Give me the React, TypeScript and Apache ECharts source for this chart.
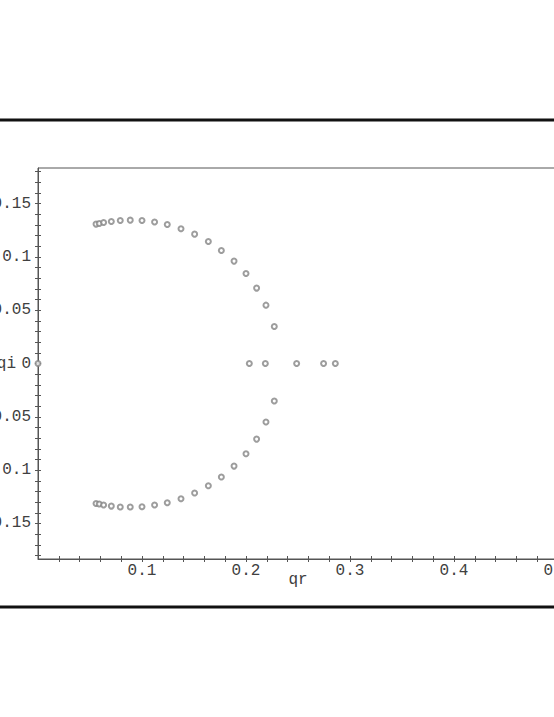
import React, { useEffect, useRef } from "react";
import * as echarts from "echarts";

// Upper branch of complex roots (qr, qi)
const qrUpper = [0.0558, 0.0589, 0.0631, 0.0705, 0.0791, 0.0887, 0.1, 0.1121, 0.1243, 0.1375, 0.1506, 0.1638, 0.1763, 0.1885, 0.2, 0.2102, 0.2192, 0.2272];
const qiUpper = [0.1307, 0.1312, 0.1322, 0.1331, 0.1341, 0.1344, 0.1341, 0.1326, 0.1303, 0.1263, 0.1213, 0.1144, 0.1059, 0.096, 0.0844, 0.0707, 0.0547, 0.0347];
// Lower branch
const qrLower = [0.0558, 0.0589, 0.0631, 0.0705, 0.0791, 0.0887, 0.1, 0.1121, 0.1243, 0.1375, 0.1506, 0.1638, 0.1763, 0.1885, 0.2, 0.2102, 0.2192, 0.2272];
const qiLower = [-0.1312, -0.1318, -0.1327, -0.1337, -0.1346, -0.1346, -0.1343, -0.1327, -0.1306, -0.1268, -0.1215, -0.1147, -0.1065, -0.0962, -0.0847, -0.0709, -0.0549, -0.0352];
// Real roots
const qrReal = [0, 0.2032, 0.2186, 0.2487, 0.2746, 0.2859];
const qiReal = [0, 0, 0, 0, 0, 0];

const xMajorTicks = [0.1, 0.2, 0.3, 0.4, 0.5];
const xMinorTicks = [0.02, 0.04, 0.06, 0.08, 0.1, 0.12, 0.14, 0.16, 0.18, 0.2, 0.22, 0.24, 0.26, 0.28, 0.3, 0.32, 0.34, 0.36, 0.38, 0.4, 0.42, 0.44, 0.46, 0.48, 0.5, 0.52, 0.54];
const yMajorTicks = [-0.15, -0.1, -0.05, 0, 0.05, 0.1, 0.15];
const yMinorTicks = [-0.18, -0.17, -0.16, -0.15, -0.14, -0.13, -0.12, -0.11, -0.1, -0.09, -0.08, -0.07, -0.06, -0.05, -0.04, -0.03, -0.02, -0.01, 0, 0.01, 0.02, 0.03, 0.04, 0.05, 0.06, 0.07, 0.08, 0.09, 0.1, 0.11, 0.12, 0.13, 0.14, 0.15, 0.16, 0.17, 0.18];

const X_MIN = 0;
const X_MAX = 0.55;
const Y_MIN = -0.1833;
const Y_MAX = 0.1833;

export default function App() {
  const ref = useRef<HTMLDivElement>(null);

  useEffect(() => {
    if (!ref.current) return;
    const chart = echarts.init(ref.current, null, { renderer: "svg" });
    const font = "Liberation Mono";
    const axisColor = "#555";
    const labelStyle = {
      fontFamily: font,
      fontSize: 16,
      color: "#404040",
    };
    const pts = (xs: number[], ys: number[]) => xs.map((x, i) => [x, ys[i]]);

    chart.setOption({
      animation: false,
      backgroundColor: "#fff",
      grid: {
        left: 38,
        top: 168,
        width: 572,
        height: 391,
        show: true,
        borderColor: axisColor,
        borderWidth: 1,
        backgroundColor: "transparent",
        containLabel: false,
        outerBoundsMode: "none",
      },
      xAxis: [
        {
          type: "value",
          min: X_MIN,
          max: X_MAX,
          position: "bottom",
          axisLine: { show: true, onZero: false, lineStyle: { color: axisColor, width: 1 } },
          axisTick: { show: true, inside: true, length: 3, customValues: xMinorTicks, lineStyle: { color: axisColor } },
          axisLabel: { show: true, customValues: xMajorTicks, margin: 4, ...labelStyle },
          splitLine: { show: false },
        },
        {
          type: "value",
          min: X_MIN,
          max: X_MAX,
          position: "bottom",
          axisLine: { show: false, onZero: false },
          axisTick: { show: true, inside: false, length: 3, customValues: xMinorTicks, lineStyle: { color: axisColor } },
          axisLabel: { show: false },
          splitLine: { show: false },
        },
      ],
      yAxis: [
        {
          type: "value",
          min: Y_MIN,
          max: Y_MAX,
          position: "left",
          axisLine: { show: true, onZero: false, lineStyle: { color: axisColor, width: 1 } },
          axisTick: { show: true, inside: true, length: 3, customValues: yMinorTicks, lineStyle: { color: axisColor } },
          axisLabel: {
            show: true,
            customValues: yMajorTicks,
            margin: 7,
            ...labelStyle,
            formatter: (v: number) => String(Math.round(v * 100) / 100),
          },
          splitLine: { show: false },
        },
        {
          type: "value",
          min: Y_MIN,
          max: Y_MAX,
          position: "left",
          axisLine: { show: false, onZero: false },
          axisTick: { show: true, inside: false, length: 3, customValues: yMinorTicks, lineStyle: { color: axisColor } },
          axisLabel: { show: false },
          splitLine: { show: false },
        },
      ],
      graphic: [
        { type: "line", shape: { x1: 0, y1: 120, x2: 640, y2: 120 }, style: { stroke: "#111", lineWidth: 3 }, silent: true },
        { type: "line", shape: { x1: 0, y1: 607, x2: 640, y2: 607 }, style: { stroke: "#111", lineWidth: 3 }, silent: true },
        {
          type: "text",
          x: 298,
          y: 580,
          style: { text: "qr", fill: "#404040", font: `16px "${font}"`, textAlign: "center", textVerticalAlign: "middle" },
        },
        {
          type: "text",
          x: 16,
          y: 364,
          style: { text: "qi", fill: "#404040", font: `16px "${font}"`, textAlign: "right", textVerticalAlign: "middle" },
        },
      ],
      series: [
        {
          type: "scatter",
          symbol: "emptyCircle",
          symbolSize: 5,
          itemStyle: { color: "#858585", borderColor: "#858585", borderWidth: 1 },
          data: [...pts(qrUpper, qiUpper), ...pts(qrLower, qiLower), ...pts(qrReal, qiReal)],
          clip: false,
        },
      ],
    });

    return () => chart.dispose();
  }, []);

  return (
    <div style={{ position: "fixed", left: 0, top: 0, width: 554, height: 717, overflow: "hidden", background: "#fff" }}>
      <div ref={ref} style={{ width: 640, height: 717 }} />
    </div>
  );
}
